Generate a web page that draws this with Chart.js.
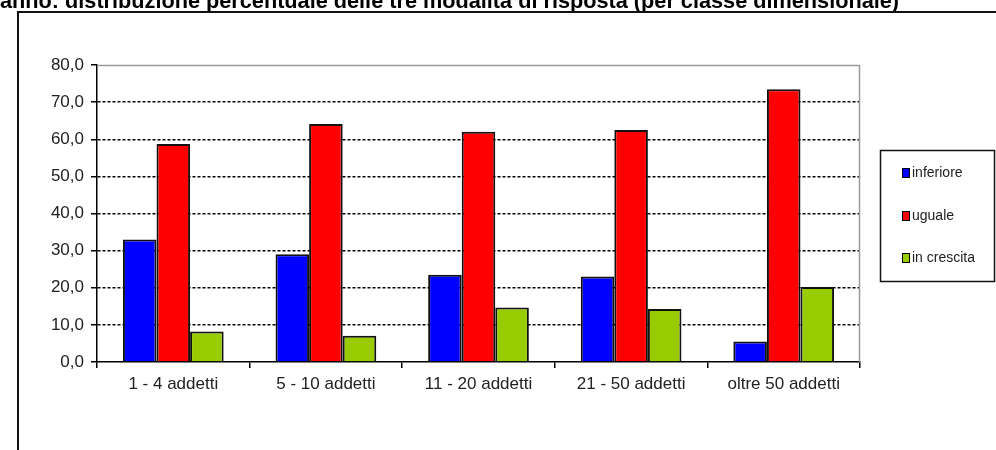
<!DOCTYPE html>
<html>
<head>
<meta charset="utf-8">
<script src="https://cdn.jsdelivr.net/npm/chart.js@4.4.1/dist/chart.umd.min.js"></script>
<style>
html,body{margin:0;padding:0;background:#fff;}
#wrap{position:relative;width:996px;height:450px;}
</style>
</head>
<body>
<div id="wrap"><canvas id="c" width="996" height="450"></canvas></div>
<script>
const titleText = "anno: distribuzione percentuale delle tre modalità di risposta (per classe dimensionale)";
const categories = ["1 - 4 addetti", "5 - 10 addetti", "11 - 20 addetti", "21 - 50 addetti", "oltre 50 addetti"];
const seriesNames = ["inferiore", "uguale", "in crescita"];
const inferiore = [33.0, 29.0, 23.5, 23.0, 5.5];
const uguale = [58.7, 64.1, 62.0, 62.5, 73.5];
const inCrescita = [8.2, 7.1, 14.7, 14.3, 20.2];
const seriesColors = ["#0000FF", "#FF0000", "#99CC00"];
const yMin = 0, yMax = 80, yStep = 10;

const FONT = "'Liberation Sans', Arial, sans-serif";

const framePlugin = {
  id: 'frame',
  beforeDraw(chart) {
    const ctx = chart.ctx;
    ctx.save();
    ctx.fillStyle = '#fff';
    ctx.fillRect(0, 0, chart.width, chart.height);
    ctx.fillStyle = '#000';
    ctx.font = "bold 21.7px " + FONT;
    ctx.textBaseline = 'alphabetic';
    ctx.textAlign = 'left';
    ctx.fillText(titleText, 0, 8);
    ctx.strokeStyle = '#111';
    ctx.lineWidth = 2;
    ctx.beginPath();
    ctx.moveTo(17, 12);
    ctx.lineTo(chart.width, 12);
    ctx.moveTo(18, 11);
    ctx.lineTo(18, chart.height);
    ctx.stroke();
    ctx.restore();
  },
  beforeDatasetsDraw(chart) {
    const {ctx, chartArea: a} = chart;
    ctx.save();
    ctx.strokeStyle = '#9a9a9a';
    ctx.lineWidth = 1.5;
    ctx.beginPath();
    ctx.moveTo(a.left, a.top + 0.5);
    ctx.lineTo(a.right - 0.5, a.top + 0.5);
    ctx.lineTo(a.right - 0.5, a.bottom);
    ctx.stroke();
    ctx.restore();
  },
  afterDraw(chart) {
    const ctx = chart.ctx;
    ctx.save();
    ctx.strokeStyle = '#111';
    ctx.lineWidth = 1.5;
    ctx.strokeRect(880.5, 150.5, 114, 131);
    ctx.font = "14px " + FONT;
    ctx.textBaseline = 'middle';
    ctx.textAlign = 'left';
    const ys = [173, 216, 258];
    chart.data.datasets.forEach((ds, i) => {
      ctx.fillStyle = ds.backgroundColor;
      ctx.fillRect(903, ys[i] - 4, 6, 8);
      ctx.strokeStyle = '#000';
      ctx.lineWidth = 1;
      ctx.strokeRect(902.5, ys[i] - 4.5, 7, 9);
      ctx.fillStyle = '#222';
      ctx.fillText(ds.label, 912, ys[i]);
    });
    ctx.restore();
  }
};

const datasets = [inferiore, uguale, inCrescita].map((d, i) => ({
  label: seriesNames[i],
  data: d,
  backgroundColor: seriesColors[i],
  borderColor: '#111',
  borderWidth: 2,
  borderSkipped: 'bottom',
  categoryPercentage: 0.66,
  barPercentage: 1.0
}));

new Chart(document.getElementById('c'), {
  type: 'bar',
  data: { labels: categories, datasets },
  options: {
    responsive: false,
    animation: false,
    devicePixelRatio: 1,
    layout: { padding: { left: 0, right: 136, top: 65, bottom: 0 } },
    plugins: { legend: { display: false }, tooltip: { enabled: false }, title: { display: false } },
    scales: {
      x: {
        grid: { offset: true, drawOnChartArea: false, drawTicks: true, tickLength: 6, color: '#000', lineWidth: 1.5 },
        border: { display: true, color: '#000', width: 1.5 },
        ticks: { color: '#222', font: { family: FONT, size: 17 }, padding: 6, maxRotation: 0 },
        afterFit(s) { s.height = 88; }
      },
      y: {
        min: yMin, max: yMax,
        grid: {
          color: (c) => (c.tick && (c.tick.value === yMax || c.tick.value === yMin)) ? 'rgba(0,0,0,0)' : '#000',
          tickColor: '#000',
          lineWidth: 1.5,
          drawTicks: true,
          tickLength: 6,
          tickBorderDash: []
        },
        border: { display: true, color: '#000', width: 1.5, dash: [3, 2] },
        ticks: {
          stepSize: yStep,
          color: '#222',
          font: { family: FONT, size: 17 },
          padding: 7,
          callback: (v) => v.toFixed(1).replace('.', ',')
        },
        afterFit(s) { s.width = 97; }
      }
    }
  },
  plugins: [framePlugin]
});
</script>
</body>
</html>
